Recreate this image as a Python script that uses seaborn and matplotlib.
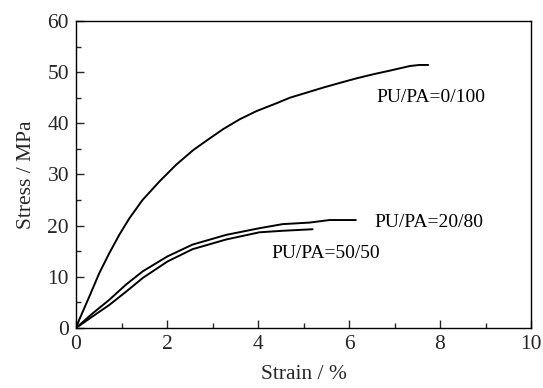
import numpy as np
import pandas as pd
import matplotlib
matplotlib.use("Agg")
import matplotlib.pyplot as plt
import seaborn as sns
from matplotlib.ticker import MultipleLocator

# Data
strain_0_100 = [0, 0.07, 0.29, 0.51, 0.73, 0.95, 1.17, 1.46, 1.83, 2.20, 2.58, 2.93, 3.24, 3.60, 3.97, 4.40, 4.70, 5.07, 5.44, 5.80, 6.17, 6.54, 6.90, 7.34, 7.55, 7.74]
stress_0_100 = [0, 1.6, 6.1, 10.7, 14.6, 18.2, 21.4, 25.0, 28.6, 31.9, 34.8, 37.0, 38.9, 40.8, 42.4, 43.9, 45.0, 46.0, 47.0, 47.9, 48.8, 49.6, 50.3, 51.2, 51.4, 51.4]

strain_20_80 = [0, 0.37, 0.73, 1.10, 1.47, 2.01, 2.56, 3.30, 4.03, 4.54, 5.13, 5.57, 6.15]
stress_20_80 = [0, 2.9, 5.5, 8.5, 11.1, 14.0, 16.3, 18.2, 19.5, 20.3, 20.6, 21.1, 21.1]

strain_50_50 = [0, 0.37, 0.73, 1.10, 1.47, 2.01, 2.56, 3.30, 4.03, 4.54, 5.20]
stress_50_50 = [0, 2.3, 4.5, 7.1, 9.8, 13.0, 15.4, 17.3, 18.7, 19.0, 19.3]

series_names = ["PU/PA=0/100", "PU/PA=20/80", "PU/PA=50/50"]
label_pos_x = [6.6, 6.55, 4.3]
label_pos_y = [45.0, 20.7, 14.6]

df = pd.concat([
    pd.DataFrame({"strain": strain_0_100, "stress": stress_0_100, "series": series_names[0]}),
    pd.DataFrame({"strain": strain_20_80, "stress": stress_20_80, "series": series_names[1]}),
    pd.DataFrame({"strain": strain_50_50, "stress": stress_50_50, "series": series_names[2]}),
], ignore_index=True)

sns.set_style("ticks")
plt.rcParams['font.family'] = ['Liberation Serif', 'DejaVu Serif']

fig = plt.figure(figsize=(5.43, 3.88), dpi=100)
ax = fig.add_axes([0.14, 0.1546, 0.838, 0.7914])

sns.lineplot(data=df, x="strain", y="stress", units="series", estimator=None,
             sort=False, color="black", linewidth=1.4, ax=ax, legend=False)

for name, lx, ly in zip(series_names, label_pos_x, label_pos_y):
    ax.text(lx, ly, name, fontsize=14, va="center", ha="left", color="black")

ax.set_xlim(0, 10)
ax.set_ylim(0, 60)
ax.xaxis.set_major_locator(MultipleLocator(2))
ax.xaxis.set_minor_locator(MultipleLocator(1))
ax.yaxis.set_major_locator(MultipleLocator(10))
ax.yaxis.set_minor_locator(MultipleLocator(5))
ax.tick_params(which="major", direction="in", length=6, width=1, labelsize=15.5, pad=5)
ax.tick_params(which="minor", direction="in", length=3.5, width=1)
for s in ax.spines.values():
    s.set_visible(True)
    s.set_linewidth(1.0)
    s.set_color("black")

ax.set_xlabel("Strain / %", fontsize=15.5, labelpad=8)
ax.set_ylabel("Stress / MPa", fontsize=15.5, labelpad=8)

fig.savefig("out.png", dpi=100)
